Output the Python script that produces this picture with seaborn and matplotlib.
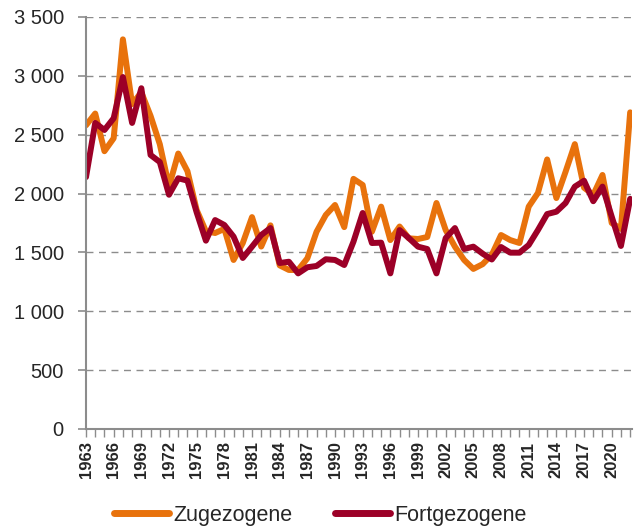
import numpy as np
import pandas as pd
import matplotlib
matplotlib.use("Agg")
import matplotlib.pyplot as plt
import seaborn as sns

years = list(range(1963, 2023))
zugezogene = [2580, 2680, 2360, 2470, 3310, 2760, 2860, 2660, 2420, 2060, 2340, 2190,
              1860, 1680, 1665, 1700, 1436, 1580, 1800, 1550, 1730, 1390, 1351,
              1351, 1450, 1676, 1818, 1903, 1715, 2125, 2073, 1676, 1889, 1605,
              1720, 1620, 1614, 1631, 1920, 1690, 1549, 1436, 1360, 1400, 1480,
              1648, 1605, 1580, 1889, 2005, 2290, 1962, 2186, 2420, 2050, 1990,
              2158, 1750, 1700, 2690]
fortgezogene = [2140, 2600, 2540, 2640, 2990, 2600, 2895, 2328, 2268, 1990, 2130, 2110,
                1840, 1600, 1775, 1733, 1634, 1453, 1549, 1648, 1707, 1410, 1421,
                1322, 1374, 1385, 1442, 1436, 1393, 1591, 1835, 1580, 1583, 1322,
                1690, 1622, 1549, 1529, 1322, 1622, 1707, 1529, 1549, 1490, 1440,
                1546, 1498, 1498, 1563, 1690, 1826, 1846, 1920, 2059, 2109, 1935,
                2059, 1804, 1555, 1955]
series_names = ["Zugezogene", "Fortgezogene"]
colors = ["#E8720C", "#9C0027"]
y_ticks = [0, 500, 1000, 1500, 2000, 2500, 3000, 3500]
y_labels = ["0", "500", "1 000", "1 500", "2 000", "2 500", "3 000", "3 500"]

df = pd.DataFrame({
    "idx": list(range(len(years))) * 2,
    "value": zugezogene + fortgezogene,
    "series": [series_names[0]] * len(years) + [series_names[1]] * len(years),
})

sns.set_style("white")
plt.rcParams["font.family"] = ["Liberation Sans", "DejaVu Sans"]

fig = plt.figure(figsize=(6.39, 5.28), dpi=100)
ax = fig.add_axes([86 / 639, 99 / 528, 546 / 639, 412 / 528])

sns.lineplot(data=df, x="idx", y="value", hue="series", hue_order=series_names,
             palette=colors, linewidth=4.3, ax=ax, legend=True,
             solid_joinstyle="round", solid_capstyle="round")

ax.set_xlim(0, len(years) - 1 + 0.2)
ax.set_ylim(0, 3500)
ax.set_yticks(y_ticks)
ax.set_yticklabels(y_labels, fontsize=14.5)
ax.set_xticks(range(len(years)))
ax.set_xticklabels([str(y) if (y - 1963) % 3 == 0 else "" for y in years],
                   rotation=90, fontsize=12, fontweight="bold")
ax.set_xlabel("")
ax.set_ylabel("")

for yv in y_ticks[1:]:
    ax.axhline(yv, color="#8C8C8C", linewidth=1.0, linestyle=(0, (5, 4)), zorder=0)

for side in ["top", "right"]:
    ax.spines[side].set_visible(False)
for side in ["left", "bottom"]:
    ax.spines[side].set_color("#8C8C8C")
    ax.spines[side].set_linewidth(1.5)
ax.tick_params(axis="y", which="both", direction="out", length=6, width=1.2,
               color="#8C8C8C", pad=10, left=True)
ax.tick_params(axis="x", which="both", direction="out", length=6, width=1.0,
               color="#8C8C8C", pad=3, bottom=True)

leg = ax.legend(loc="center", bbox_to_anchor=(0.4295, -0.209), ncol=2,
                frameon=False, fontsize=15.5, handlelength=2.55, columnspacing=2.0,
                handletextpad=0.2, borderpad=0)
for line in leg.get_lines():
    line.set_linewidth(5)
    line.set_solid_capstyle("round")

fig.savefig("out.png", dpi=100)
